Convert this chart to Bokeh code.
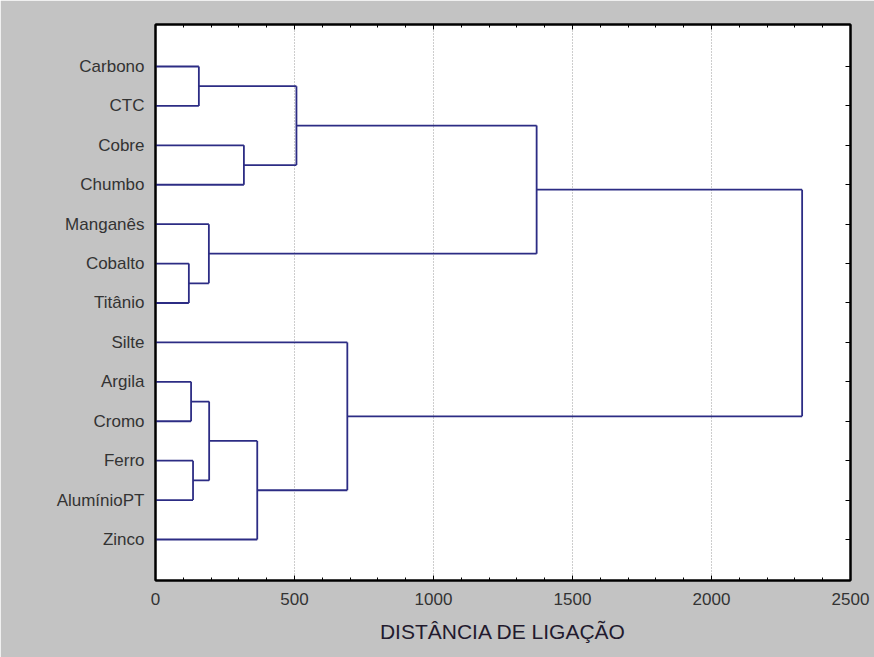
from bokeh.plotting import figure
from bokeh.models import FixedTicker, LinearAxis, Range1d
from bokeh.embed import file_html
from bokeh.resources import INLINE

# ---- data ----
leaves = ["Carbono", "CTC", "Cobre", "Chumbo", "Manganês", "Cobalto", "Titânio",
          "Silte", "Argila", "Cromo", "Ferro", "AlumínioPT", "Zinco"]
merge_names = ["C1", "C2", "C3", "C4", "C5", "C6", "C7", "C8", "C9", "C10", "C11", "C12"]
merge_left = ["Carbono", "Cobre", "C1", "Cobalto", "Manganês", "C3",
              "Argila", "Ferro", "C7", "C9", "Silte", "C6"]
merge_right = ["CTC", "Chumbo", "C2", "Titânio", "C4", "C5",
               "Cromo", "AlumínioPT", "C8", "Zinco", "C10", "C11"]
merge_dist = [156, 318, 507, 120, 192, 1371, 128, 135, 193, 366, 690, 2326]
x_ticks = [0, 500, 1000, 1500, 2000, 2500]
x_label = "DISTÂNCIA DE LIGAÇÃO"

# ---- build dendrogram segments ----
n = len(leaves)
pos = {name: (0.0, float(n - i)) for i, name in enumerate(leaves)}
x0, y0, x1, y1 = [], [], [], []
for name, a, b, h in zip(merge_names, merge_left, merge_right, merge_dist):
    xa, ya = pos[a]
    xb, yb = pos[b]
    x0 += [xa, xb, h]
    y0 += [ya, yb, ya]
    x1 += [h, h, h]
    y1 += [ya, yb, yb]
    pos[name] = (h, (ya + yb) / 2)

GREY = "#c3c3c3"
LINE = "#2c2c84"

p = figure(frame_width=695, frame_height=556,
           min_border_left=155, min_border_right=24,
           min_border_top=24, min_border_bottom=77,
           x_range=Range1d(0, 2500), y_range=Range1d(-0.04, 14.065),
           output_backend="svg", toolbar_location=None,
           background_fill_color="white", border_fill_color=GREY,
           outline_line_color="black", outline_line_width=2)

p.segment(x0=x0, y0=y0, x1=x1, y1=y1, line_color=LINE, line_width=1.8)

# grid
p.ygrid.visible = False
p.xgrid.ticker = FixedTicker(ticks=x_ticks[1:-1])
p.xgrid.grid_line_color = "#9a9a9a"
p.xgrid.grid_line_dash = "1 2"
p.xgrid.grid_line_width = 1

FONT = "Liberation Sans"
TXT = "#333333"

# bottom axis
xa = p.xaxis[0]
xa.ticker = FixedTicker(ticks=x_ticks, minor_ticks=list(range(0, 2501, 100)))
xa.major_tick_in = 5
xa.major_tick_out = 0
xa.minor_tick_in = 3
xa.minor_tick_out = 0
xa.axis_line_color = "black"
xa.axis_line_width = 2
xa.major_label_text_font = FONT
xa.major_label_text_font_size = "17px"
xa.major_label_text_color = TXT
xa.major_label_standoff = 12
xa.axis_label = x_label
xa.axis_label_text_font = FONT
xa.axis_label_text_font_size = "21px"
xa.axis_label_text_font_style = "normal"
xa.axis_label_text_color = "#221a2e"
xa.axis_label_standoff = 12

# left axis with names
ya = p.yaxis[0]
ya.ticker = FixedTicker(ticks=[float(n - i) for i in range(n)])
ya.major_label_overrides = {float(n - i): leaves[i] for i in range(n)}
ya.major_tick_in = 0
ya.major_tick_out = 0
ya.minor_tick_in = 0
ya.minor_tick_out = 0
ya.major_tick_line_color = None
ya.minor_tick_line_color = None
ya.axis_line_color = "black"
ya.axis_line_width = 2
ya.major_label_text_font = FONT
ya.major_label_text_font_size = "17px"
ya.major_label_text_color = TXT
ya.major_label_standoff = 11

# top axis: ticks only
top = LinearAxis(ticker=FixedTicker(ticks=x_ticks, minor_ticks=list(range(0, 2501, 100))),
                 major_tick_in=5, major_tick_out=0, minor_tick_in=3, minor_tick_out=0,
                 major_label_text_color=None, axis_line_color="black", axis_line_width=2)
p.add_layout(top, "above")

# right axis: ticks only
right = LinearAxis(ticker=FixedTicker(ticks=[float(n - i) for i in range(n)]),
                   major_tick_in=5, major_tick_out=0, minor_tick_line_color=None,
                   major_label_text_color=None, axis_line_color="black", axis_line_width=2)
p.add_layout(right, "right")

open("out.html", "w").write(file_html(p, INLINE))
